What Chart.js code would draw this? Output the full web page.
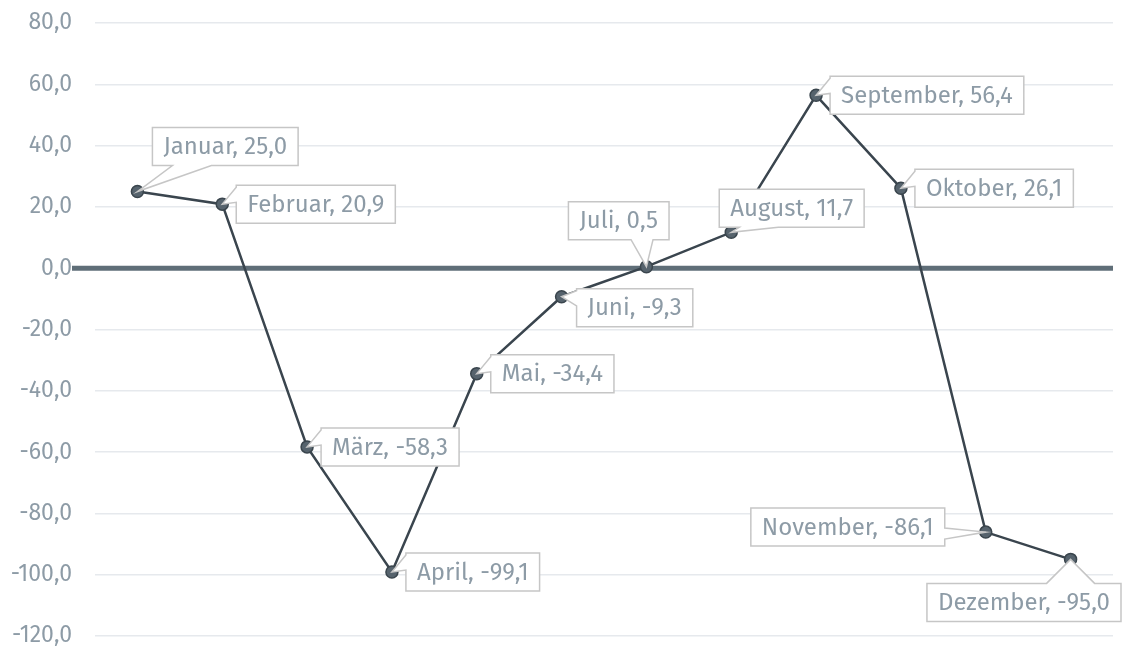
<!DOCTYPE html>
<html>
<head>
<meta charset="utf-8">
<script src="https://cdn.jsdelivr.net/npm/chart.js@4"></script>
<style>
    html, body { margin: 0; padding: 0; background: #ffffff; }
    #wrap { width: 1122px; height: 647px; position: relative; }
</style>
</head>
<body>
<div id="wrap"><canvas id="lineChart"></canvas></div>
<script>
// Monthly values
const months = ["Januar", "Februar", "März", "April", "Mai", "Juni", "Juli", "August", "September", "Oktober", "November", "Dezember"];
const values = [25.0, 20.9, -58.3, -99.1, -34.4, -9.3, 0.5, 11.7, 56.4, 26.1, -86.1, -95.0];
const yMin = -120;
const yMax = 80;
const yStep = 20;

// where each callout sits relative to its point
const calloutSide = ["above", "right", "right", "right", "right", "right", "above", "above", "right", "right", "left", "below"];
const calloutShift = [15, 0, 0, 0, 0, 11, -78, -12, 0, 0, 0, -139];
const calloutGap = [26, 14, 14, 14, 14, 15, 27, 5, 14, 14, 41, 24];

const FONT = "'Fira Sans', 'Open Sans', sans-serif";
const TEXT_COLOR = "#8d9ba6";

function formatNum(v) {
    return v.toFixed(1).replace(".", ",");
}

// thick zero line, drawn under the series
const zeroLine = {
    id: "zeroLine",
    beforeDatasetsDraw(chart) {
        const ctx = chart.ctx;
        const y = chart.scales.y.getPixelForValue(0);
        ctx.save();
        ctx.strokeStyle = "#5f6e78";
        ctx.lineWidth = 5;
        ctx.beginPath();
        ctx.moveTo(72, y);
        ctx.lineTo(chart.chartArea.right, y);
        ctx.stroke();
        ctx.restore();
    }
};

// callout boxes with a tail pointing to the point
const callouts = {
    id: "callouts",
    afterDatasetsDraw(chart) {
        const ctx = chart.ctx;
        const meta = chart.getDatasetMeta(0);
        const pad = 11, h = 38;
        ctx.save();
        ctx.font = "24px " + FONT;
        ctx.textBaseline = "middle";
        meta.data.forEach((pt, i) => {
            const px = pt.x, py = pt.y;
            const text = months[i] + ", " + formatNum(values[i]);
            const w = ctx.measureText(text).width + pad * 2;
            const side = calloutSide[i];
            const shift = calloutShift[i];
            const gap = calloutGap[i];
            let left, top;
            if (side === "right") { left = px + gap; top = py - h / 2 + shift; }
            else if (side === "left") { left = px - gap - w; top = py - h / 2 - 5; }
            else if (side === "above") { left = px + shift; top = py - gap - h; }
            else { left = px + shift; top = py + gap; }
            if (left + w > chart.width - 1) left = chart.width - 1 - w;
            const right = left + w, bottom = top + h;

            ctx.beginPath();
            ctx.moveTo(left, top);
            if (side === "below") {
                const c = Math.min(Math.max(px, left + 26), right - 26);
                ctx.lineTo(c - 24, top);
                ctx.lineTo(px, py);
                ctx.lineTo(c + 24, top);
            }
            ctx.lineTo(right, top);
            if (side === "left") {
                const c = Math.min(Math.max(py, top + 9), bottom - 9);
                ctx.lineTo(right, c - 4);
                ctx.lineTo(px, py);
                ctx.lineTo(right, c + 7);
            }
            ctx.lineTo(right, bottom);
            if (side === "above") {
                if (px < left + w / 2) {
                    ctx.lineTo(left + 59, bottom);
                    ctx.lineTo(px, py);
                    ctx.lineTo(left + 20, bottom);
                } else {
                    ctx.lineTo(right - 16, bottom);
                    ctx.lineTo(px, py);
                    ctx.lineTo(right - 38, bottom);
                }
            }
            ctx.lineTo(left, bottom);
            if (side === "right") {
                ctx.lineTo(left, top + h * 0.45);
                ctx.lineTo(px, py);
                ctx.lineTo(left, top + 2);
            }
            ctx.closePath();
            ctx.fillStyle = "#ffffff";
            ctx.fill();
            ctx.strokeStyle = "#c6c6c6";
            ctx.lineWidth = 1.5;
            ctx.stroke();

            ctx.fillStyle = TEXT_COLOR;
            ctx.textAlign = "left";
            ctx.fillText(text, left + pad, top + h / 2 + 1);
        });
        ctx.restore();
    }
};

const ctx = document.getElementById("lineChart").getContext("2d");
new Chart(ctx, {
    type: "line",
    data: {
        labels: months,
        datasets: [{
            data: values,
            borderColor: "#3a454e",
            borderWidth: 2.5,
            pointRadius: 6,
            pointHoverRadius: 6,
            pointBackgroundColor: "#56636d",
            pointBorderColor: "#3a454d",
            pointBorderWidth: 1.5,
            tension: 0,
            fill: false
        }]
    },
    options: {
        responsive: true,
        maintainAspectRatio: false,
        animation: false,
        layout: { padding: { top: 23, bottom: 11, right: 9, left: 0 } },
        plugins: {
            legend: { display: false },
            tooltip: { enabled: false }
        },
        scales: {
            x: {
                type: "category",
                offset: true,
                display: false
            },
            y: {
                min: yMin,
                max: yMax,
                border: { display: false },
                grid: { color: "#e6e9ed", lineWidth: 1.5, drawTicks: false },
                ticks: {
                    stepSize: yStep,
                    padding: 23,
                    color: TEXT_COLOR,
                    font: { family: FONT, size: 23 },
                    callback: v => formatNum(v)
                },
                afterFit(scale) {
                    scale.width = 95;
                    scale.paddingTop = 0;
                    scale.paddingBottom = 0;
                }
            }
        }
    },
    plugins: [zeroLine, callouts]
});
</script>
</body>
</html>
